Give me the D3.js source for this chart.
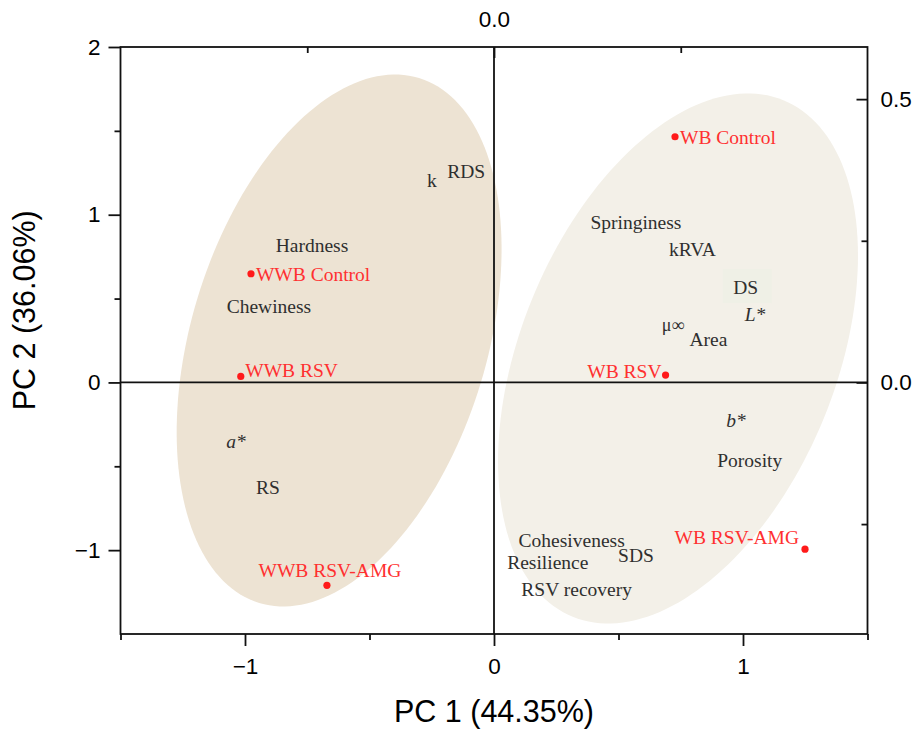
<!DOCTYPE html>
<html>
<head>
<meta charset="utf-8">
<script src="https://cdn.jsdelivr.net/npm/d3@7/dist/d3.min.js"></script>
<style>
  body { margin: 0; background: #fff; }
  svg { display: block; }
</style>
</head>
<body>
<div id="chart"></div>
<script>
// samples (scores) on PC1 / PC2
const sampleNames = ['WB Control', 'WWB Control', 'WWB RSV', 'WB RSV', 'WWB RSV-AMG', 'WB RSV-AMG'];
const samplePC1 = [0.727, -0.976, -1.017, 0.689, -0.671, 1.249];
const samplePC2 = [1.465, 0.648, 0.036, 0.044, -1.21, -0.994];

// variables (loadings), placed where their labels sit in the biplot
const varNames = ['k', 'RDS', 'Hardness', 'Chewiness', 'a*', 'RS', 'Springiness', 'kRVA', 'DS', 'L*',
    'μ∞', 'Area', 'b*', 'Porosity', 'Cohesiveness', 'Resilience', 'SDS', 'RSV recovery'];
const varPC1 = [-0.249, -0.112, -0.731, -0.904, -1.036, -0.908, 0.570, 0.797, 1.011, 1.048,
    0.719, 0.861, 0.972, 1.027, 0.312, 0.216, 0.570, 0.332];
const varPC2 = [1.205, 1.258, 0.817, 0.455, -0.350, -0.624, 0.956, 0.797, 0.568, 0.404,
    0.346, 0.255, -0.227, -0.465, -0.938, -1.072, -1.032, -1.230];
const italicVars = ['a*', 'L*', 'b*'];

// group ellipses: centre and two half-axis vectors, in PC units
const groupCenters = [[-0.622, 0.25], [0.739, 0.143]];
const groupAxisA = [[0.321, 1.565], [0.423, 1.540]];
const groupAxisB = [[0.568, -0.257], [0.586, -0.355]];
const groupColors = ['#ede3d3', '#f3f0e8'];

const xTicks = [-1, 0, 1];
const xMinor = [-1.5, -0.5, 0.5, 1.5];
const yTicks = [-1, 0, 1, 2];
const yMinor = [-0.5, 0.5, 1.5];
const rTicks = [0, 0.5];
const rMinor = [-0.25, 0.25];
const tTicks = [0];
const tMinor = [-0.25, 0.25];

const width = 919, height = 729;
const margin = { top: 47, right: 51.5, bottom: 95, left: 120.5 };

const svg = d3.select('#chart').append('svg')
    .attr('width', width)
    .attr('height', height);

const x = d3.scaleLinear().domain([-1.5, 1.5]).range([margin.left, width - margin.right]);
const y = d3.scaleLinear().domain([-1.5, 2]).range([height - margin.bottom, margin.top]);
const xTop = d3.scaleLinear().domain([-0.5, 0.5]).range([margin.left, width - margin.right]);
const yRight = d3.scaleLinear().domain([-0.444, 0.592]).range([height - margin.bottom, margin.top]);

const serif = '"Liberation Serif", "Times New Roman", serif';
const sans = '"Liberation Sans", Arial, sans-serif';

// ellipses
const line = d3.line().curve(d3.curveLinearClosed);
groupCenters.forEach((c, i) => {
    const pts = d3.range(0, 2 * Math.PI, Math.PI / 90).map(t => {
        const px = c[0] + groupAxisA[i][0] * Math.cos(t) + groupAxisB[i][0] * Math.sin(t);
        const py = c[1] + groupAxisA[i][1] * Math.cos(t) + groupAxisB[i][1] * Math.sin(t);
        return [x(px), y(py)];
    });
    svg.append('path')
        .attr('d', line(pts))
        .attr('fill', groupColors[i]);
});

// little tinted box behind DS in the original
const dsIdx = varNames.indexOf('DS');
svg.append('rect')
    .attr('x', x(varPC1[dsIdx]) - 23)
    .attr('y', y(varPC2[dsIdx]) - 18)
    .attr('width', 49)
    .attr('height', 34)
    .attr('fill', '#eff0e6');

// zero lines
svg.append('line')
    .attr('x1', x(0)).attr('x2', x(0))
    .attr('y1', y(2)).attr('y2', y(-1.5))
    .attr('stroke', '#111').attr('stroke-width', 1.8);
svg.append('line')
    .attr('x1', x(-1.5)).attr('x2', x(1.5))
    .attr('y1', y(0)).attr('y2', y(0))
    .attr('stroke', '#111').attr('stroke-width', 1.8);

// frame
svg.append('rect')
    .attr('x', x(-1.5)).attr('y', y(2))
    .attr('width', x(1.5) - x(-1.5))
    .attr('height', y(-1.5) - y(2))
    .attr('fill', 'none')
    .attr('stroke', '#111')
    .attr('stroke-width', 1.8);

function styleAxis(g, size) {
    g.select('.domain').remove();
    g.selectAll('line').attr('stroke', '#111').attr('stroke-width', 1.8);
    g.selectAll('text')
        .style('font-family', sans)
        .style('font-size', size + 'px')
        .attr('fill', '#000');
}

const fmtInt = d3.format('d');
const fmt1 = d3.format('.1f');

// bottom
svg.append('g').attr('transform', `translate(0,${y(-1.5)})`)
    .call(d3.axisBottom(x).tickValues(xTicks).tickSize(12).tickPadding(12).tickFormat(fmtInt))
    .call(g => styleAxis(g, 22.5));
svg.append('g').attr('transform', `translate(0,${y(-1.5)})`)
    .call(d3.axisBottom(x).tickValues(xMinor).tickSize(6).tickFormat(''))
    .call(g => styleAxis(g, 22));

// left
svg.append('g').attr('transform', `translate(${x(-1.5)},0)`)
    .call(d3.axisLeft(y).tickValues(yTicks).tickSize(12).tickPadding(8).tickFormat(fmtInt))
    .call(g => styleAxis(g, 22.5));
svg.append('g').attr('transform', `translate(${x(-1.5)},0)`)
    .call(d3.axisLeft(y).tickValues(yMinor).tickSize(6).tickFormat(''))
    .call(g => styleAxis(g, 22));

// right (inward ticks)
svg.append('g').attr('transform', `translate(${x(1.5)},0)`)
    .call(d3.axisRight(yRight).tickValues(rTicks).tickSize(-11).tickPadding(13).tickFormat(fmt1))
    .call(g => styleAxis(g, 22.5));
svg.append('g').attr('transform', `translate(${x(1.5)},0)`)
    .call(d3.axisRight(yRight).tickValues(rMinor).tickSize(-6).tickFormat(''))
    .call(g => styleAxis(g, 22));

// top (inward ticks)
svg.append('g').attr('transform', `translate(0,${y(2)})`)
    .call(d3.axisTop(xTop).tickValues(tTicks).tickSize(-11).tickPadding(20).tickFormat(fmt1))
    .call(g => styleAxis(g, 22.5));
svg.append('g').attr('transform', `translate(0,${y(2)})`)
    .call(d3.axisTop(xTop).tickValues(tMinor).tickSize(-6).tickFormat(''))
    .call(g => styleAxis(g, 22));

// axis titles
svg.append('text')
    .attr('x', x(0))
    .attr('y', 722)
    .attr('text-anchor', 'middle')
    .style('font-family', sans)
    .style('font-size', '30.5px')
    .text('PC 1 (44.35%)');

svg.append('text')
    .attr('transform', `translate(35,${y(0.43)}) rotate(-90)`)
    .attr('text-anchor', 'middle')
    .style('font-family', sans)
    .style('font-size', '30.5px')
    .text('PC 2 (36.06%)');

// variable labels
svg.append('g').selectAll('text')
    .data(varNames)
    .join('text')
    .attr('x', (d, i) => x(varPC1[i]))
    .attr('y', (d, i) => y(varPC2[i]))
    .attr('dy', '0.35em')
    .attr('text-anchor', 'middle')
    .style('font-family', serif)
    .style('font-size', d => d === 'μ∞' ? '18px' : '19.5px')
    .style('font-style', d => italicVars.includes(d) ? 'italic' : 'normal')
    .attr('fill', '#2f2f2f')
    .text(d => d);

// sample points + labels
const labelPlace = {
    'WB Control': { dx: 5, dy: 0, anchor: 'start' },
    'WWB Control': { dx: 5, dy: 0, anchor: 'start' },
    'WWB RSV': { dx: 4.5, dy: -6, anchor: 'start' },
    'WB RSV': { dx: -4, dy: -4, anchor: 'end' },
    'WWB RSV-AMG': { dx: 3, dy: -15, anchor: 'middle' },
    'WB RSV-AMG': { dx: -6, dy: -12, anchor: 'end' }
};

const samples = svg.append('g');
samples.selectAll('circle')
    .data(sampleNames)
    .join('circle')
    .attr('cx', (d, i) => x(samplePC1[i]))
    .attr('cy', (d, i) => y(samplePC2[i]))
    .attr('r', 3.6)
    .attr('fill', '#ff1a1a');

samples.selectAll('text')
    .data(sampleNames)
    .join('text')
    .attr('x', (d, i) => x(samplePC1[i]) + labelPlace[d].dx)
    .attr('y', (d, i) => y(samplePC2[i]) + labelPlace[d].dy)
    .attr('dy', '0.35em')
    .attr('text-anchor', d => labelPlace[d].anchor)
    .style('font-family', serif)
    .style('font-size', '19.5px')
    .attr('fill', '#ff3030')
    .text(d => d);
</script>
</body>
</html>
